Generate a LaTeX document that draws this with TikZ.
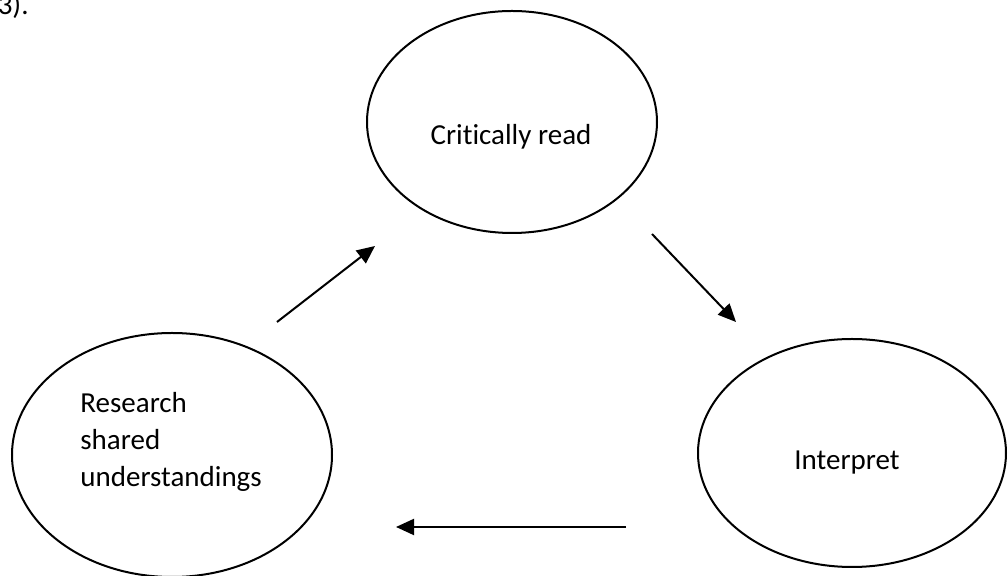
\documentclass[tikz,border=0pt]{standalone}
\usepackage{fontspec}
\setmainfont{Carlito}[Ligatures=NoCommon]
\usetikzlibrary{shapes.geometric,arrows.meta}

\tikzset{
  bubble/.style={draw=black, line width=1pt, ellipse, inner sep=0pt, fill=none},
  caption/.style={font=\fontsize{14.5}{17.5}\selectfont, inner sep=0pt},
  flow/.style={draw=black, line width=1pt, -{Triangle[length=9pt,width=8pt]}}
}

\begin{document}
\begin{tikzpicture}[x=0.5pt, y=-0.5pt]
  \useasboundingbox[fill=white] (0,0) rectangle (1008,576);

  % trailing text of the previous paragraph
  \node[caption, anchor=base east] (tail) at (29,15) {3).};

  % the three stages of the cycle
  \node[bubble, minimum width=290pt*0.5, minimum height=222pt*0.5] (read) at (512,122) {};
  \node[bubble, minimum width=320pt*0.5, minimum height=244pt*0.5] (research) at (172,455) {};
  \node[bubble, minimum width=308pt*0.5, minimum height=228pt*0.5] (interp) at (852,453) {};

  \node[caption] (readtxt) at (511,137) {Critically read};
  \node[caption, anchor=west, align=left] (restxt) at (80,442)
    {Research\\[1pt]shared\\[1pt]understandings};
  \node[caption] (interptxt) at (847,463) {Interpret};

  % arrow end points between the stages
  \coordinate (a1s) at (277,322);
  \coordinate (a1e) at (375,246);
  \coordinate (a2s) at (652,234);
  \coordinate (a2e) at (736,322);
  \coordinate (a3s) at (626,527);
  \coordinate (a3e) at (396,527);

  \draw[flow] (a1s) -- (a1e);
  \draw[flow] (a2s) -- (a2e);
  \draw[flow] (a3s) -- (a3e);
\end{tikzpicture}
\end{document}
